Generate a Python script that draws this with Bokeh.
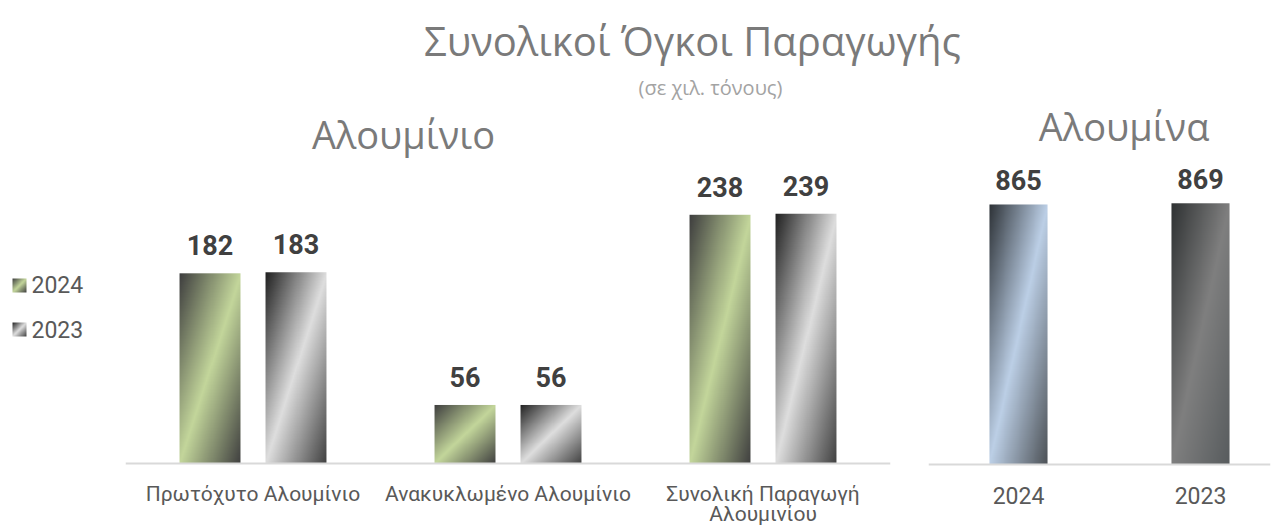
import numpy as np
from bokeh.plotting import figure
from bokeh.models import Range1d, Label, LabelSet, Span, ColumnDataSource
from bokeh.layouts import row, column
from bokeh.embed import file_html
from bokeh.resources import INLINE
from bokeh.core.properties import value

# ---------------- data ----------------
al_categories = ["Πρωτόχυτο Αλουμίνιο", "Ανακυκλωμένο Αλουμίνιο", "Συνολική Παραγωγή\nΑλουμινίου"]
al_2024 = [182, 56, 238]
al_2023 = [183, 56, 239]
series_names = ["2024", "2023"]
alumina_years = ["2024", "2023"]
alumina_values = [865, 869]

main_title = "Συνολικοί Όγκοι Παραγωγής"
sub_title = "(σε χιλ. τόνους)"
left_title = "Αλουμίνιο"
right_title = "Αλουμίνα"

# ---------------- styles ----------------
TITLE_FONT = "Open Sans"
LABEL_FONT = "Roboto"
GREEN = ("#3f3f3f", "#c3d69b", "#3f3f3f")
GREY = ("#222222", "#dedede", "#404040")
BLUE = ("#2e3338", "#bccfe6", "#4d5257")
DGREY = ("#2f3233", "#7f7f7f", "#585c5e")


def hex2rgb(h):
    h = h.lstrip("#")
    return np.array([int(h[i:i + 2], 16) for i in (0, 2, 4)], dtype=float)


def gradient(stops, n=120):
    a, b, c = (hex2rgb(s) for s in stops)
    u = np.linspace(0, 1, n)[None, :]
    v = np.linspace(1, 0, n)[:, None]   # row 0 is the bottom of the bar
    t = (u + v) / 2
    s1 = np.clip(t / 0.5, 0, 1)[..., None]
    s2 = np.clip((t - 0.5) / 0.5, 0, 1)[..., None]
    rgb = np.where((t < 0.5)[..., None], a + (b - a) * s1, b + (c - b) * s2)
    img = np.empty((n, n), dtype=np.uint32)
    view = img.view(dtype=np.uint8).reshape((n, n, 4))
    view[..., :3] = np.round(rgb).astype(np.uint8)
    view[..., 3] = 255
    return img


def bare(p):
    p.xgrid.visible = False
    p.ygrid.visible = False
    p.outline_line_color = None
    p.background_fill_color = "white"
    p.border_fill_color = "white"


ROW_H = 428
TOP = 100          # header height

# ---------------- header ----------------
header = figure(width=1281, height=TOP, x_range=Range1d(0, 1281), y_range=Range1d(0, TOP),
                x_axis_location=None, y_axis_location=None, output_backend="svg",
                toolbar_location=None, min_border=0)
bare(header)
header.add_layout(Label(x=692, y=60, text=main_title, text_align="center", text_baseline="middle",
                        text_font=TITLE_FONT, text_font_size="40px", text_color="#7a7a7a"))
header.add_layout(Label(x=710, y=13, text=sub_title, text_align="center", text_baseline="middle",
                        text_font=TITLE_FONT, text_font_size="20px", text_color="#a3a3a3"))

# ---------------- legend ----------------
leg = figure(width=118, height=ROW_H, x_range=Range1d(0, 118), y_range=Range1d(0, ROW_H),
             x_axis_location=None, y_axis_location=None, output_backend="svg",
             toolbar_location=None, min_border=0)
bare(leg)
leg_src = ColumnDataSource(dict(image=[gradient(GREEN, 40), gradient(GREY, 40)],
                                x=[12, 12], y=[236, 192], name=series_names,
                                ty=[244, 199], tx=[31, 31]))
leg.image_rgba(image="image", x="x", y="y", dw=14, dh=14, source=leg_src)
leg.text(x="tx", y="ty", text="name", source=leg_src, text_align="left", text_baseline="middle",
         text_font=value(LABEL_FONT), text_font_size="23px", text_color="#595959")

# ---------------- left: aluminium ----------------
L_SCALE = 1.045      # px per unit
L_BASE = 363         # px from the top of the row to the baseline
pl = figure(width=797, height=ROW_H, x_range=Range1d(-0.5, len(al_categories) - 0.5),
            y_range=Range1d(-(ROW_H - L_BASE) / L_SCALE, L_BASE / L_SCALE),
            x_axis_location=None, y_axis_location=None,
            output_backend="svg", toolbar_location=None,
            min_border_left=7, min_border_right=25, min_border_top=0, min_border_bottom=0)
bare(pl)
pl.add_layout(Span(location=0, dimension="width", line_color="#d9d9d9", line_width=2))

bw = 0.239
off = 0.1686
idx = np.arange(len(al_categories))
for vals, stops, sgn in ((al_2024, GREEN, -1), (al_2023, GREY, 1)):
    g = gradient(stops)
    src = ColumnDataSource(dict(image=[g] * len(vals), x=idx + sgn * off - bw / 2,
                                xc=idx + sgn * off, h=vals,
                                ly=np.array(vals) + 28 / L_SCALE,
                                lab=[str(v) for v in vals]))
    pl.image_rgba(image="image", x="x", y=0, dw=bw, dh="h", source=src)
    pl.text(x="xc", y="ly", text="lab", source=src, text_align="center", text_baseline="middle",
            text_font=value(LABEL_FONT), text_font_style="bold", text_font_size="27px",
            text_color="#404040")

# category labels: one centred label per line
cx, cy, ct = [], [], []
for i, cat in enumerate(al_categories):
    for j, line in enumerate(cat.split("\n")):
        cx.append(i)
        cy.append(-(30 + 20 * j) / L_SCALE)
        ct.append(line)
cat_src = ColumnDataSource(dict(x=cx, y=cy, text=ct))
pl.add_layout(LabelSet(x="x", y="y", text="text", source=cat_src, text_align="center",
                       text_baseline="middle", text_font=value(LABEL_FONT), text_font_size="21px",
                       text_color="#595959"))

pl.add_layout(Label(x=0.590, y=315, text=left_title, text_align="center", text_baseline="middle",
                    text_font=TITLE_FONT, text_font_size="38px", text_color="#7a7a7a"))

# ---------------- right: alumina ----------------
R_SCALE = 0.3006
R_BASE = 364
pr = figure(width=366, height=ROW_H, x_range=Range1d(-0.4945, 1.3846),
            y_range=Range1d(-(ROW_H - R_BASE) / R_SCALE, R_BASE / R_SCALE),
            x_axis_location=None, y_axis_location=None,
            output_backend="svg", toolbar_location=None,
            min_border_left=13, min_border_right=11, min_border_top=0, min_border_bottom=0)
bare(pr)
pr.add_layout(Span(location=0, dimension="width", line_color="#d9d9d9", line_width=2))
ridx = np.arange(len(alumina_years))
rbw = 0.319
rsrc = ColumnDataSource(dict(image=[gradient(BLUE), gradient(DGREY)], x=ridx - rbw / 2, xc=ridx,
                             h=alumina_values, ly=np.array(alumina_values) + 24 / R_SCALE,
                             lab=[str(v) for v in alumina_values],
                             ty=[-31 / R_SCALE] * len(ridx), years=alumina_years))
pr.image_rgba(image="image", x="x", y=0, dw=rbw, dh="h", source=rsrc)
pr.text(x="xc", y="ly", text="lab", source=rsrc, text_align="center", text_baseline="middle",
        text_font=value(LABEL_FONT), text_font_style="bold", text_font_size="27px",
        text_color="#404040")
pr.add_layout(LabelSet(x="xc", y="ty", text="years", source=rsrc, text_align="center",
                       text_baseline="middle", text_font=value(LABEL_FONT), text_font_size="23px",
                       text_color="#595959"))
pr.add_layout(Label(x=0.58, y=(R_BASE - 25) / R_SCALE, text=right_title,
                    text_align="center", text_baseline="middle",
                    text_font=TITLE_FONT, text_font_size="38px", text_color="#7a7a7a"))

layout = column(header, row(leg, pl, pr))
open("out.html", "w").write(file_html(layout, INLINE))
